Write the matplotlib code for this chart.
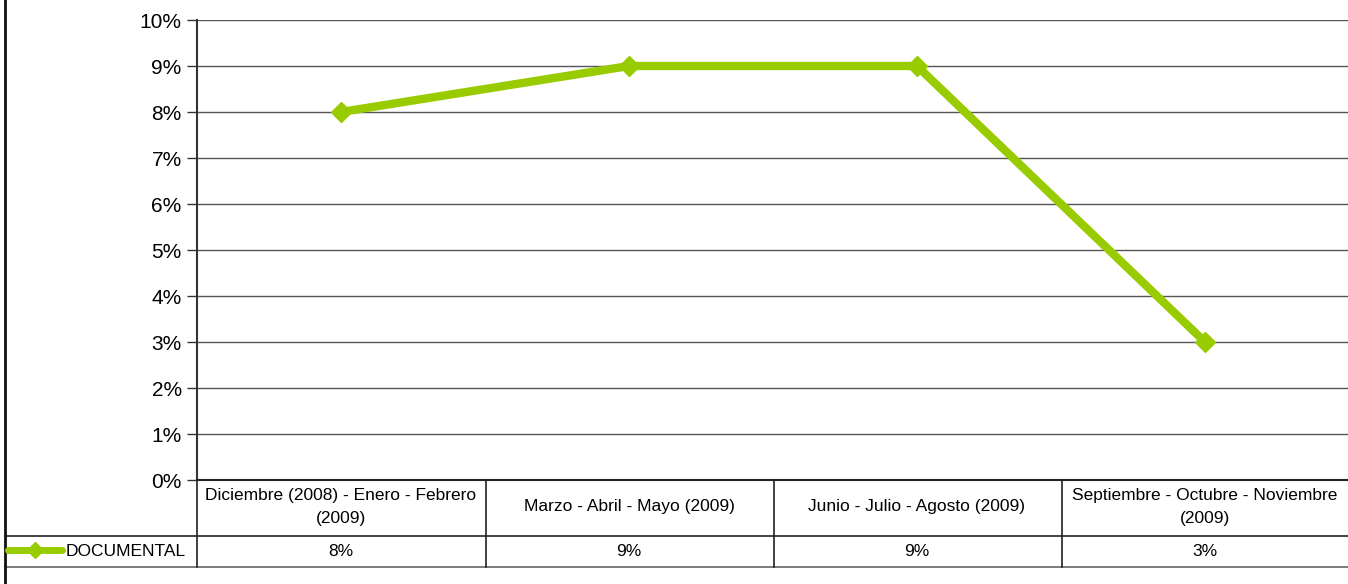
import matplotlib
matplotlib.use("Agg")
import matplotlib.pyplot as plt
from matplotlib.lines import Line2D
from matplotlib.transforms import blended_transform_factory

categories = [
    "Diciembre (2008) - Enero - Febrero\n(2009)",
    "Marzo - Abril - Mayo (2009)",
    "Junio - Julio - Agosto (2009)",
    "Septiembre - Octubre - Noviembre\n(2009)",
]
series_name = "DOCUMENTAL"
values = [8, 9, 9, 3]
value_labels = ["8%", "9%", "9%", "3%"]
yticks = list(range(0, 11))

plt.rcParams['font.family'] = ['Liberation Sans', 'DejaVu Sans']

W, H = 1348, 584
fig = plt.figure(figsize=(W / 100, H / 100), dpi=100)

def fy(py):
    return 1 - py / H

def fx(px):
    return px / W

ax = fig.add_axes([fx(197), fy(480), fx(1349) - fx(197), fy(20) - fy(480)])
green = "#99CC00"
x = list(range(len(categories)))
ax.plot(x, values, color=green, lw=6, marker="D", markersize=10,
        markerfacecolor=green, markeredgecolor=green, solid_joinstyle="miter", zorder=3)
ax.set_xlim(-0.5, len(categories) - 0.5)
ax.set_ylim(0, 10)
ax.set_yticks(yticks)
ax.set_yticklabels([f"{t}%" for t in yticks], fontsize=15)
ax.yaxis.grid(True, color="#555555", lw=1)
ax.set_axisbelow(True)
ax.set_xticks([])
for s in ["top", "right", "bottom"]:
    ax.spines[s].set_visible(False)
ax.spines["left"].set_color("#333333")
ax.spines["left"].set_linewidth(1.5)
ax.tick_params(axis="y", length=7, width=1, color="#333333", pad=4)

# Table drawn in figure pixel coordinates aligned with data columns
tr = fig.transFigure
bt = blended_transform_factory(ax.transData, fig.transFigure)
lc = "#222222"
def hline(x0, x1, py, lw=1.2, color=lc):
    fig.add_artist(Line2D([fx(x0), fx(x1)], [fy(py), fy(py)], transform=tr, color=color, lw=lw))
def vline(px, y0, y1, lw=1.2, color=lc):
    fig.add_artist(Line2D([fx(px), fx(px)], [fy(y0), fy(y1)], transform=tr, color=color, lw=lw))

hline(197, 1348, 480, lw=1.5)
hline(5, 1348, 536)
hline(5, 1348, 567, color="#666666")
vline(5, 0, 584, lw=2, color="#111111")
for px in [197, 486, 774, 1062]:
    vline(px, 480, 567)

for i, (c, v) in enumerate(zip(categories, value_labels)):
    fig.text(i, fy(507), c, transform=bt, ha="center", va="center",
             fontsize=12.5, linespacing=1.6)
    fig.text(i, fy(551), v, transform=bt, ha="center", va="center", fontsize=12.5)

# legend key in table
fig.add_artist(Line2D([fx(8), fx(62)], [fy(550), fy(550)], transform=tr,
                      color=green, lw=5, solid_capstyle="round"))
fig.add_artist(Line2D([fx(35)], [fy(550)], transform=tr, marker="D",
                      markersize=8, color=green))
fig.text(fx(66), fy(551), series_name, ha="left", va="center", fontsize=12.5)

fig.savefig("out.png", dpi=100)
